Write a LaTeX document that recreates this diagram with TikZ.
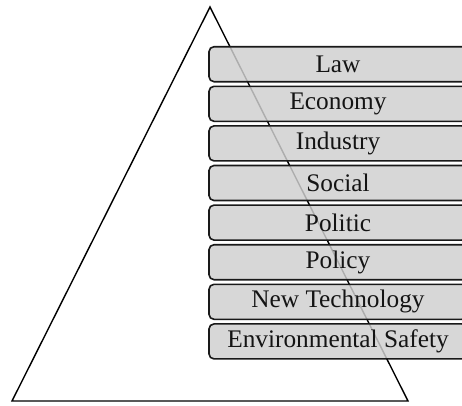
\documentclass[tikz,border=0pt]{standalone}
\usepackage{fontspec}
\setmainfont{Liberation Serif}
\begin{document}
\begin{tikzpicture}[x=1pt,y=-1pt,
  layerbox/.style={draw=black!90, line width=1.6pt, rounded corners=5pt,
    fill=black!19, fill opacity=0.84, text opacity=1,
    minimum width=258pt, minimum height=35pt, inner sep=0pt,
    font=\fontsize{25.3}{29}\selectfont, text=black!92},
  pyramid/.style={draw=black, line width=1.4pt, line join=miter}]
\useasboundingbox (0,0) rectangle (462,405);
\clip (0,0) rectangle (462,405);
% pyramid outline
\coordinate (apex) at (210,7);
\coordinate (bl) at (12,401);
\coordinate (br) at (408,401);
\draw[pyramid] (apex) -- (br) -- (bl) -- cycle;
% layers, top to bottom
\foreach \lbl [count=\i from 0] in {Law,Economy,Industry,Social,Politic,Policy,New Technology,Environmental Safety}{
  \node[layerbox] (layer\i) at (338,64.2+39.6*\i) {\lbl};
}
\end{tikzpicture}
\end{document}
